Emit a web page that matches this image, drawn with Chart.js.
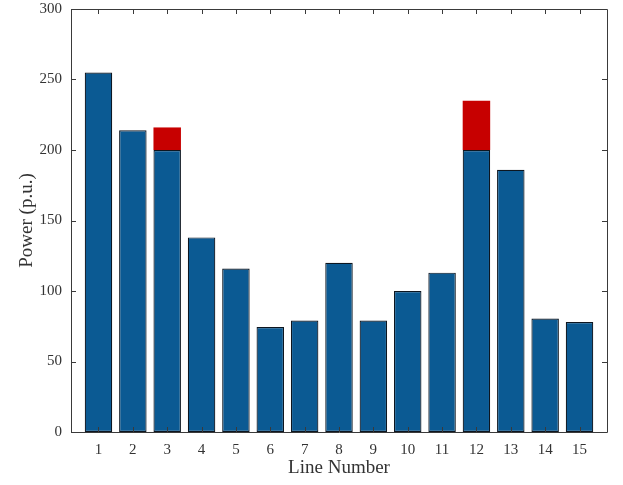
<!DOCTYPE html>
<html>
<head>
<meta charset="utf-8">
<script src="https://cdn.jsdelivr.net/npm/chart.js@4/dist/chart.umd.min.js"></script>
<style>
html,body{margin:0;padding:0;background:#fff;}
#wrap{width:623px;height:485px;}
</style>
</head>
<body>
<div id="wrap"><canvas id="c" width="623" height="485"></canvas></div>
<script>
const lineNumbers = [1,2,3,4,5,6,7,8,9,10,11,12,13,14,15];
const basePower   = [255,214,200,138,116,74.5,79,120,79,100,113,200,186,80.5,78];
const excessPower = [0,0,16,0,0,0,0,0,0,0,0,35,0,0,0];
const yTicks = [0,50,100,150,200,250,300];

const FONT = "'Liberation Serif', 'Times New Roman', serif";

const framePlugin = {
  id: 'frame',
  afterDraw(chart) {
    const {ctx, chartArea: a, scales} = chart;
    ctx.save();
    ctx.strokeStyle = '#3a3a3a';
    ctx.lineWidth = 1;
    ctx.beginPath();
    ctx.rect(Math.round(a.left)+0.5, Math.round(a.top)+0.5, Math.round(a.right-a.left), Math.round(a.bottom-a.top));
    ctx.stroke();
    const tl = 5;
    ctx.beginPath();
    lineNumbers.forEach(v => {
      const x = Math.round(scales.x.getPixelForValue(v)) + 0.5;
      ctx.moveTo(x, a.bottom); ctx.lineTo(x, a.bottom - tl);
      ctx.moveTo(x, a.top); ctx.lineTo(x, a.top + tl);
    });
    yTicks.forEach(v => {
      const y = Math.round(scales.y.getPixelForValue(v)) + 0.5;
      ctx.moveTo(a.left, y); ctx.lineTo(a.left + tl, y);
      ctx.moveTo(a.right, y); ctx.lineTo(a.right - tl, y);
    });
    ctx.stroke();
    ctx.restore();
  }
};

new Chart(document.getElementById('c'), {
  type: 'bar',
  data: {
    datasets: [
      {
        data: lineNumbers.map((n,i) => ({x:n, y:basePower[i]})),
        backgroundColor: '#0B5A93',
        borderColor: '#0d1620',
        borderWidth: 1.2,
        borderSkipped: false,
        categoryPercentage: 1.0,
        barPercentage: 0.8
      },
      {
        data: lineNumbers.map((n,i) => ({x:n, y:excessPower[i]})),
        backgroundColor: '#C70000',
        borderWidth: 0,
        categoryPercentage: 1.0,
        barPercentage: 0.8
      }
    ]
  },
  options: {
    responsive: false,
    animation: false,
    devicePixelRatio: 1,
    layout: {padding: {left: 16, right: 16, top: 9, bottom: 0}},
    plugins: {legend: {display: false}, tooltip: {enabled: false}},
    scales: {
      x: {
        type: 'linear',
        stacked: true,
        min: 0.2,
        max: 15.8,
        offset: false,
        afterBuildTicks: s => { s.ticks = lineNumbers.map(v => ({value: v})); },
        afterFit: s => { s.height = 53; s.paddingLeft = 0; s.paddingRight = 0; },
        grid: {display: false, drawTicks: false},
        border: {display: false},
        ticks: {color: '#333', font: {family: FONT, size: 15}, padding: 9, autoSkip: false, maxRotation: 0},
        title: {display: true, text: 'Line Number', color: '#333', font: {family: FONT, size: 19}, padding: {top: 0, bottom: 6}}
      },
      y: {
        stacked: true,
        min: 0,
        max: 300,
        afterBuildTicks: s => { s.ticks = yTicks.map(v => ({value: v})); },
        afterFit: s => { s.width = 55; s.paddingTop = 0; s.paddingBottom = 0; },
        grid: {display: false, drawTicks: false},
        border: {display: false},
        ticks: {color: '#333', font: {family: FONT, size: 15}, padding: 9},
        title: {display: true, text: 'Power (p.u.)', color: '#333', font: {family: FONT, size: 19}, padding: {top: 0, bottom: 0}}
      }
    }
  },
  plugins: [framePlugin]
});
</script>
</body>
</html>
